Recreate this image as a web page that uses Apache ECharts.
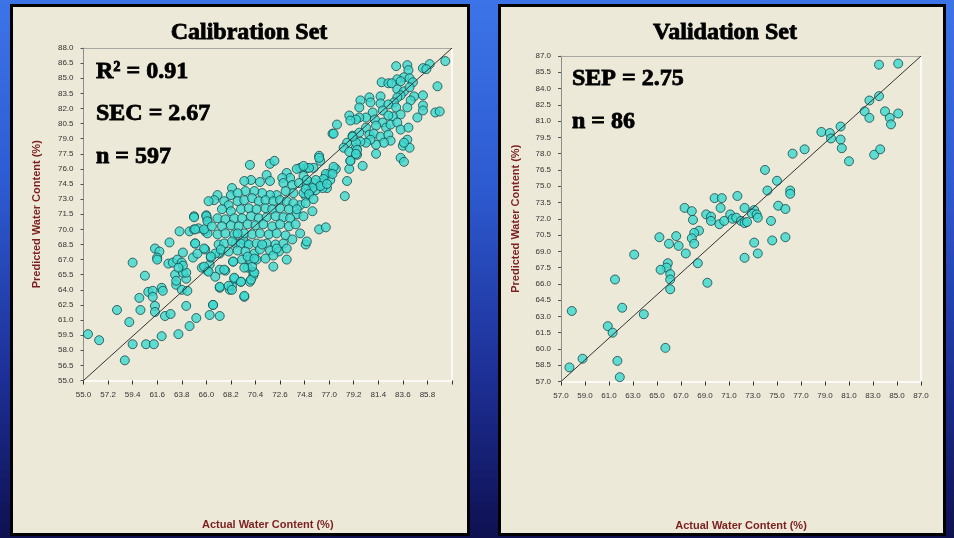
<!DOCTYPE html>
<html>
<head>
<meta charset="utf-8">
<script src="https://cdn.jsdelivr.net/npm/echarts@6/dist/echarts.min.js"></script>
<style>
html,body{margin:0;padding:0;width:954px;height:538px;overflow:hidden;}
body{background:linear-gradient(180deg,#3c74e8 0%,#2d5ad0 35%,#1d2f96 70%,#0e1050 100%);position:relative;}
.panel{position:absolute;top:4px;height:532px;background:#ECE9D8;border:3px solid #000;box-sizing:border-box;}
#chart{position:absolute;left:0;top:0;width:954px;height:538px;}
</style>
</head>
<body>
<div class="panel" style="left:10px;width:460px;"></div>
<div class="panel" style="left:498px;width:448px;"></div>
<div id="chart"></div>
<script>
// Calibration set: [actual, predicted]
const calPoints = [
[55.4,59.6],[56.4,59.0],[58.7,57.0],[59.4,58.6],[60.6,58.6],[61.3,58.6],[62.0,59.4],[63.5,59.6],[64.5,60.4],[65.1,61.2],[59.1,60.8],[58.0,62.0],[60.1,62.0],[61.4,62.4],[61.4,61.8],[62.3,61.4],[62.8,61.6],[64.2,62.4],[66.3,61.5],[67.2,61.4],[66.6,62.5],[60.0,63.2],[60.8,63.8],[61.2,63.9],[61.2,63.3],[62.0,64.2],[62.1,63.9],[60.5,65.4],[59.4,66.7],[63.2,65.5],[63.3,64.5],[63.8,64.0],[64.3,63.9],[63.3,64.9],[64.2,65.1],[63.9,65.7],[64.2,65.7],[62.6,66.6],[63.0,66.7],[63.4,67.0],[63.8,66.7],[63.9,66.4],[63.5,66.2],[61.4,68.1],[61.8,67.8],[61.6,67.2],[61.6,67.0],[63.9,67.7],[62.7,68.7],[63.6,69.8],[64.8,67.2],[65.2,67.6],[65.9,68.0],[65.0,68.6],[65.6,66.2],[66.1,65.9],[66.3,66.5],[66.4,67.2],[65.9,69.8],[66.1,69.6],[64.5,69.8],[64.9,70.0],[65.3,70.1],[64.9,71.3],[66.0,71.4],[66.1,71.0],[67.2,64.2],[68.1,64.0],[68.3,64.4],[68.5,65.1],[69.1,64.8],[69.4,63.3],[69.9,64.8],[67.7,65.9],[67.2,66.0],[68.4,66.8],[69.2,67.0],[69.7,66.2],[69.9,67.0],[70.2,65.4],[70.2,65.8],[70.3,67.6],[67.2,67.6],[66.8,67.6],[67.1,68.5],[68.6,68.6],[69.6,68.6],[69.3,69.0],
[77.3,79.5],[79.1,79.3],[78.6,78.6],[79.4,78.1],[79.5,77.4],[78.9,76.8],[78.8,76.0],[78.6,74.8],[78.4,73.3],[76.1,77.3],[76.2,76.8],[69.9,76.4],[71.7,76.5],[72.1,76.8],[71.4,75.4],[71.7,74.8],[70.8,74.7],[70.0,74.9],[69.4,74.8],[68.3,74.1],[68.2,73.4],[67.0,73.4],[66.7,72.9],[66.2,72.8],[64.9,71.2],[66.0,71.3],[66.1,70.8],[65.0,70.0],[65.8,70.0],[65.0,68.6],[65.8,68.1],[66.4,67.3],[65.8,66.3],[66.2,65.8],[67.6,66.0],[66.8,65.3],[68.5,65.2],[69.1,64.8],[70.0,65.0],[70.3,65.7],[70.1,66.3],[69.4,66.2],[70.5,67.0],[68.4,66.8],[67.2,64.3],[68.0,64.4],[68.3,64.0],[69.4,63.4],[66.6,62.5],[72.0,66.3],[73.2,67.0],[74.9,68.5],[75.0,68.8],[76.1,70.0],[76.7,70.2],[74.4,69.6],[74.1,71.5],[75.5,71.8],[74.4,72.4],[74.9,73.3],[75.3,73.8],[76.8,74.1],[76.2,74.6],[76.7,75.3],[77.1,75.6],[77.6,76.0],[77.1,74.9],[76.4,74.1],[75.0,76.1],[74.4,76.1],[74.1,76.0],[74.7,75.3],[73.2,75.6],[73.5,75.1],[72.8,75.1],[72.9,74.6],[73.7,74.4],[74.3,74.6],[75.0,74.4],[75.6,74.6],[75.8,73.9],[74.7,73.6],[73.8,73.6],[73.1,73.8],[72.3,73.4],[71.7,73.4],[71.0,73.6],[70.3,73.8],[69.5,73.8],[68.8,73.6],[67.6,72.8],[68.0,72.4],[68.8,72.8],[69.4,72.9],[70.1,73.1],[70.7,72.8],[71.3,72.9],[72.0,72.8],[72.6,72.9],[73.2,72.8],[73.8,72.6],[74.9,72.6],[67.4,72.0],[68.2,71.8],[69.1,72.0],[69.8,72.1],[70.5,72.0],[71.3,72.1],[71.9,72.0],[72.6,72.1],[73.4,72.0],[74.1,72.0],[74.7,71.3],[67.0,71.1],[67.7,71.0],[68.5,71.1],[69.2,71.1],[70.0,71.3],[70.7,71.1],[71.4,71.2],[72.2,71.3],[72.9,71.2],[73.5,71.1],[66.5,70.3],[67.4,70.3],[68.2,70.4],[68.9,70.3],[69.7,70.5],[70.4,70.4],[71.1,70.5],[71.9,70.3],[72.6,70.5],[73.4,70.3],[74.0,70.5],[67.0,69.5],[67.7,69.6],[68.5,69.5],[69.4,69.6],[70.1,69.5],[70.8,69.6],[71.6,69.5],[72.3,69.6],[73.1,69.4],[73.7,69.0],[67.6,68.6],[68.3,68.8],[69.1,68.6],[69.8,68.5],[70.5,68.6],[71.4,68.6],[72.2,68.5],[72.9,68.6],[67.3,68.0],[68.0,67.8],[68.8,67.9],[69.5,67.8],[70.8,68.0],[71.7,67.9],[72.5,67.8],[73.2,68.1],[69.7,67.3],[70.3,67.1],[71.3,67.1],[72.0,67.4],[72.3,68.1],[71.0,68.5],[68.8,69.6],
[87.4,86.7],[86.0,86.4],[85.4,86.0],[85.7,85.9],[84.0,86.3],[83.0,86.2],[84.1,85.8],[83.7,85.1],[84.2,85.0],[83.1,84.9],[83.4,84.7],[84.5,84.6],[81.7,84.6],[82.3,84.5],[82.6,84.5],[86.7,84.2],[83.1,83.9],[83.7,83.7],[84.2,84.1],[83.4,83.3],[83.1,83.1],[84.6,83.2],[85.4,83.3],[84.3,82.8],[82.8,82.6],[81.6,83.2],[80.6,83.1],[79.8,82.8],[79.7,82.1],[80.7,82.6],[81.6,82.5],[82.3,82.4],[81.8,81.8],[83.0,82.1],[84.0,82.1],[83.4,81.4],[85.4,82.3],[85.4,81.8],[86.5,81.6],[86.9,81.7],[84.9,81.1],[82.7,81.2],[82.3,81.3],[80.9,81.6],[80.3,81.1],[79.7,81.1],[78.8,81.3],[79.4,80.9],[78.9,80.8],[81.1,80.9],[81.8,80.6],[81.2,80.3],[82.1,80.1],[82.5,80.4],[83.1,80.6],[83.4,79.9],[84.1,80.1],[80.3,80.1],[79.7,79.6],[80.6,79.4],[81.0,79.5],[81.6,79.2],[82.3,79.4],[82.5,78.8],[81.9,78.6],[81.2,78.4],[80.7,78.9],[80.3,78.6],[79.8,78.7],[79.4,78.6],[79.1,79.2],[77.7,80.4],[77.4,79.5],[78.3,78.1],[78.8,77.7],[79.5,77.9],[79.4,77.5],[78.9,76.8],[80.0,76.3],[83.4,77.1],[83.7,76.7],[81.2,77.5],[83.6,78.3],[84.0,78.9],[84.2,78.1],[83.7,78.6],[77.4,76.2],[76.1,77.1],[75.6,76.1],[75.2,76.1],[74.7,76.3],[76.7,75.5],[77.3,75.5],[76.5,75.0],[75.8,74.9],[75.0,74.9],[76.2,74.3],[76.8,74.5],[75.5,74.1],[74.9,74.0],[75.2,73.5],[75.6,73.0]
];
// Validation set: [actual, predicted]
const valPoints = [
[83.5,86.2],[85.1,86.3],[82.7,82.9],[83.5,83.3],[82.3,81.9],[82.7,81.3],[84.0,81.9],[84.4,81.3],[84.5,80.7],[85.1,81.7],[83.1,77.9],[83.6,78.4],[78.7,80.0],[79.4,79.9],[79.5,79.4],[80.3,80.5],[80.3,79.3],[80.4,78.5],[81.0,77.3],[76.3,78.0],[77.3,78.4],[74.0,76.5],[75.0,75.5],[74.2,74.6],[76.1,74.6],[76.1,74.3],[75.1,73.2],[75.7,72.9],[74.5,71.8],[74.6,70.0],[75.7,70.3],[71.7,74.1],[72.3,73.0],[73.1,72.8],[72.9,72.5],[73.3,72.4],[73.4,72.1],[73.1,69.8],[73.4,68.8],[72.3,68.4],[69.8,73.9],[70.4,73.9],[70.3,73.0],[69.1,72.4],[69.5,72.2],[69.5,71.8],[70.2,71.5],[70.6,71.8],[71.1,72.4],[71.3,72.0],[71.6,72.1],[72.0,71.8],[72.3,71.6],[72.5,71.7],[67.3,73.0],[67.9,72.7],[68.0,71.9],[68.5,70.9],[68.1,70.7],[67.9,70.2],[68.1,69.7],[65.2,70.3],[66.6,70.4],[66.0,69.7],[66.8,69.5],[67.4,68.8],[68.4,67.9],[69.2,66.1],[65.9,67.9],[65.8,67.5],[65.3,67.3],[66.1,66.9],[66.1,66.4],[66.1,65.5],[63.1,68.7],[61.5,66.4],[62.1,63.8],[63.9,63.2],[60.9,62.1],[61.3,61.5],[57.9,63.5],[65.7,60.1],[61.7,58.9],[61.9,57.4],[58.8,59.1],[57.7,58.3]
];
// Axis ranges and 1:1 reference lines
const calRange = [55, 88];
const valRange = [57, 87];
const calLine = [[55, 55], [88, 88]];
const valLine = [[57, 57], [87, 87]];
const calXInterval = 2.2, calYInterval = 1.5;
const valXInterval = 2.0, valYInterval = 1.5;
const titles = ['Calibration Set', 'Validation Set'];
const calStats = ['R\u00B2 = 0.91', 'SEC = 2.67', 'n = 597'];
const valStats = ['SEP = 2.75', 'n = 86'];
const xName = 'Actual Water Content (%)';
const yName = 'Predicted Water Content (%)';

const chart = echarts.init(document.getElementById('chart'), null, {renderer: 'canvas'});
const labelFont = {fontSize: 8, color: '#333', fontFamily: 'Liberation Sans'};
const nameStyle = {fontSize: 11, fontWeight: 'bold', color: '#7B1F1F', fontFamily: 'Liberation Sans'};
function fmt(hideMax, max) {
  return function (v) { if (hideMax && Math.abs(v - max) < 1e-6) return ''; return v.toFixed(1); };
}
function bottomAxis(gi, range, interval, hideMax) {
  return {gridIndex: gi, type: 'value', min: range[0], max: range[1], interval: interval,
    name: xName, nameLocation: 'middle', nameGap: 139, nameTextStyle: nameStyle,
    axisLine: {onZero: false, lineStyle: {color: '#ffffff', width: 1.5}},
    axisTick: {length: 4, lineStyle: {color: '#333'}},
    axisLabel: Object.assign({margin: 10, formatter: fmt(hideMax, range[1])}, labelFont),
    splitLine: {show: false}};
}
function topAxis(gi, range) {
  return {gridIndex: gi, type: 'value', position: 'top', min: range[0], max: range[1],
    axisLine: {onZero: false, lineStyle: {color: '#a8a8a0', width: 1}},
    axisTick: {show: false}, axisLabel: {show: false}, splitLine: {show: false}};
}
function leftAxis(gi, range, interval, gap) {
  return {gridIndex: gi, type: 'value', min: range[0], max: range[1], interval: interval,
    name: yName, nameLocation: 'middle', nameGap: gap, nameTextStyle: nameStyle,
    axisLine: {onZero: false, lineStyle: {color: '#8c8c88', width: 1}},
    axisTick: {length: 3, lineStyle: {color: '#555'}},
    axisLabel: Object.assign({margin: 10, formatter: fmt(false)}, labelFont),
    splitLine: {show: false}};
}
function rightAxis(gi, range) {
  return {gridIndex: gi, type: 'value', position: 'right', min: range[0], max: range[1],
    axisLine: {onZero: false, lineStyle: {color: '#ffffff', width: 1.5}},
    axisTick: {show: false}, axisLabel: {show: false}, splitLine: {show: false}};
}
const scatterStyle = {color: '#3CD8CE', borderColor: '#17464A', borderWidth: 1};
function serifText(t, x, y, align) {
  return {type: 'text', x: x, y: y, z: 10, style: {text: t, fontSize: 24, fontWeight: 'bold', fontFamily: '"Liberation Serif", "Times New Roman", serif', fill: '#000', stroke: '#000', lineWidth: 0.8, align: align, verticalAlign: 'middle'}};
}
const graphics = [serifText(titles[0], 249, 33, 'center'), serifText(titles[1], 725, 33, 'center')];
const calStatY = [72, 114, 157];
calStats.forEach(function (t, i) { graphics.push(serifText(t, 96, calStatY[i], 'left')); });
const valStatY = [79, 122];
valStats.forEach(function (t, i) { graphics.push(serifText(t, 572, valStatY[i], 'left')); });

chart.setOption({
  backgroundColor: 'transparent',
  animation: false,
  grid: [
    {left: 83.5, top: 48, width: 368.5, height: 332.5},
    {left: 561, top: 56, width: 360, height: 325.5}
  ],
  xAxis: [bottomAxis(0, calRange, calXInterval, true), topAxis(0, calRange),
          bottomAxis(1, valRange, valXInterval, false), topAxis(1, valRange)],
  yAxis: [leftAxis(0, calRange, calYInterval, 41), rightAxis(0, calRange),
          leftAxis(1, valRange, valYInterval, 40), rightAxis(1, valRange)],
  graphic: graphics,
  series: [
    {type: 'scatter', xAxisIndex: 0, yAxisIndex: 0, data: calPoints, symbolSize: 9, itemStyle: scatterStyle, z: 2},
    {type: 'line', xAxisIndex: 0, yAxisIndex: 0, data: calLine, symbol: 'none', lineStyle: {color: '#333', width: 1}, z: 3},
    {type: 'scatter', xAxisIndex: 2, yAxisIndex: 2, data: valPoints, symbolSize: 9, itemStyle: scatterStyle, z: 2},
    {type: 'line', xAxisIndex: 2, yAxisIndex: 2, data: valLine, symbol: 'none', lineStyle: {color: '#333', width: 1}, z: 3}
  ]
});
</script>
</body>
</html>
